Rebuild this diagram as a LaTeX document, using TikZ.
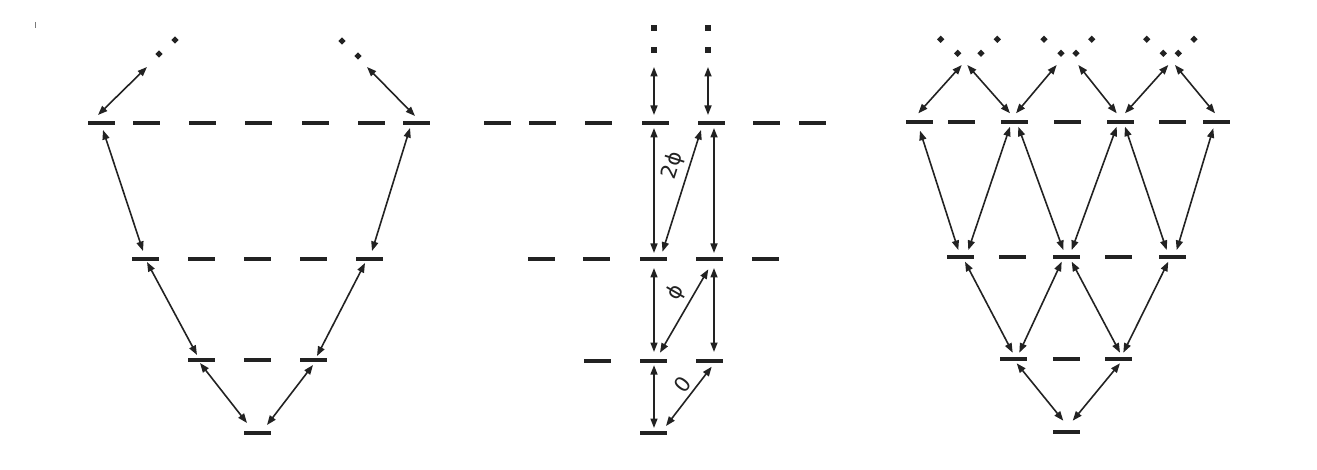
\documentclass[tikz,border=0pt]{standalone}
\usepackage{fontspec}
\newfontfamily\labfont{DejaVu Sans}
\usetikzlibrary{arrows.meta,calc,shapes.geometric}
\definecolor{ink}{HTML}{222222}
\newcommand\cnx[4]{\draw[arr] ($(#1)+(#2)$) -- ($(#3)+(#4)$);}
\begin{document}
\begin{tikzpicture}[x=1pt,y=-1pt,
  lvl/.style={rectangle,fill=ink,draw=none,inner sep=0pt,minimum width=27pt,minimum height=4.2pt},
  arr/.style={{Triangle[length=9.5pt,width=7pt]}-{Triangle[length=9.5pt,width=7pt]},line width=1.6pt,draw=ink},
  dia/.style={diamond,fill=ink,draw=none,inner sep=0pt,minimum size=7.5pt},
  sqd/.style={rectangle,fill=ink,draw=none,inner sep=0pt,minimum size=6.5pt},
  lbl/.style={font=\labfont\fontsize{21}{21}\selectfont,inner sep=0pt,text=ink}]
\useasboundingbox (0,0) rectangle (1317,470);
% stray tick
\draw[line width=0.6pt,draw=ink!60] (35,22) -- (35,28);

%% ---------------- Left panel ----------------
\node[lvl] (L0) at (257.5,433) {};
\node[lvl] (L1a) at (201,360) {};
\node[lvl] (L1b) at (257,360) {};
\node[lvl] (L1c) at (313.5,360) {};
\node[lvl] (L2a) at (145,259) {};
\node[lvl] (L2b) at (201,259) {};
\node[lvl] (L2c) at (257,259) {};
\node[lvl] (L2d) at (313,259) {};
\node[lvl] (L2e) at (369.5,259) {};
\node[lvl] (L3a) at (101.5,123) {};
\node[lvl] (L3b) at (146.5,123) {};
\node[lvl] (L3c) at (202.5,123) {};
\node[lvl] (L3d) at (258.5,123) {};
\node[lvl] (L3e) at (315,123) {};
\node[lvl] (L3f) at (371,123) {};
\node[lvl] (L3g) at (416.5,123) {};
\node[dia] (Ld1) at (159,54) {};
\node[dia] (Ld2) at (175,40) {};
\node[dia] (Ld3) at (342,41) {};
\node[dia] (Ld4) at (358,56) {};

\cnx{L1a}{-1,3}{L0}{-10.5,-10}
\cnx{L1c}{-0.5,5}{L0}{9.5,-8}
\cnx{L2a}{2,3}{L1a}{-4,-5}
\cnx{L2e}{-4.5,4}{L1c}{3.5,-4}
\cnx{L3a}{1.5,7}{L2a}{-2,-8}
\cnx{L3g}{-6.5,5}{L2e}{2.5,-8}
\cnx{L3a}{-3.5,-8}{Ld1}{-12,13}
\cnx{L3g}{-1.5,-7}{Ld4}{9,11}

%% ---------------- Middle panel ----------------
\node[lvl] (M0) at (653.5,433) {};
\node[lvl] (M1a) at (597.5,360.7) {};
\node[lvl] (M1b) at (653.5,360.7) {};
\node[lvl] (M1c) at (709.5,360.7) {};
\node[lvl] (M2a) at (541,259) {};
\node[lvl] (M2b) at (596.5,259) {};
\node[lvl] (M2c) at (653.5,259) {};
\node[lvl] (M2d) at (709.5,259) {};
\node[lvl] (M2e) at (765.5,259) {};
\node[lvl] (M3a) at (497.5,123) {};
\node[lvl] (M3b) at (542.5,123) {};
\node[lvl] (M3c) at (598.5,123) {};
\node[lvl] (M3d) at (655,123) {};
\node[lvl] (M3e) at (711,123) {};
\node[lvl] (M3f) at (766.5,123) {};
\node[lvl] (M3g) at (812.5,123) {};
\node[sqd] (Md1) at (654,28) {};
\node[sqd] (Md2) at (654,50) {};
\node[sqd] (Md3) at (708,28) {};
\node[sqd] (Md4) at (708,50) {};

\cnx{Md2}{0,17}{M3d}{-1,-8}
\cnx{Md4}{0,17}{M3e}{-3,-8}
\cnx{M3d}{-1,5}{M2c}{0.5,-6}
\cnx{M3e}{3,5}{M2d}{4.5,-6}
\cnx{M2c}{9,-7.3}{M3e}{-10,7}
\cnx{M2c}{0.5,9}{M1b}{0.5,-8.7}
\cnx{M2d}{4.5,9}{M1c}{4.5,-8.7}
\cnx{M1b}{6.5,-8}{M2d}{-1.2,10.3}
\cnx{M1b}{0.5,4.5}{M0}{0.5,-5}
\cnx{M0}{12.5,-7}{M1c}{2.2,6}

\node[lbl,rotate=72.5] (t2phi) at (673,166) {2ϕ};
\node[lbl,rotate=60] (tphi) at (676,292.5) {ϕ};
\node[lbl,rotate=52] (tzero) at (682.5,385) {0};

%% ---------------- Right panel ----------------
\node[lvl] (R0) at (1066,431.7) {};
\node[lvl] (R1a) at (1013.3,359) {};
\node[lvl] (R1b) at (1066,359) {};
\node[lvl] (R1c) at (1118.8,359) {};
\node[lvl] (R2a) at (960,257.3) {};
\node[lvl] (R2b) at (1012.8,257.3) {};
\node[lvl] (R2c) at (1066.2,257.3) {};
\node[lvl] (R2d) at (1118.8,257.3) {};
\node[lvl] (R2e) at (1172.2,257.3) {};
\node[lvl] (R3a) at (919.5,121.7) {};
\node[lvl] (R3b) at (961.7,121.7) {};
\node[lvl] (R3c) at (1014.5,121.7) {};
\node[lvl] (R3d) at (1067,121.7) {};
\node[lvl] (R3e) at (1120,121.7) {};
\node[lvl] (R3f) at (1172.8,121.7) {};
\node[lvl] (R3g) at (1216.2,121.7) {};
\node[dia] (Ru1) at (940.7,39.3) {};
\node[dia] (Ru2) at (997.3,39.3) {};
\node[dia] (Ru3) at (1044,39.3) {};
\node[dia] (Ru4) at (1091.7,39.3) {};
\node[dia] (Ru5) at (1146.7,39.3) {};
\node[dia] (Ru6) at (1194,39.3) {};
\node[dia] (Rl1) at (957.7,53.3) {};
\node[dia] (Rl2) at (981,53.3) {};
\node[dia] (Rl3) at (1061,53.3) {};
\node[dia] (Rl4) at (1076,53.3) {};
\node[dia] (Rl5) at (1163.3,53.3) {};
\node[dia] (Rl6) at (1178.3,53.3) {};

\cnx{R1a}{3.4,4.3}{R0}{-2.7,-11}
\cnx{R1c}{1.2,4.3}{R0}{6.7,-11}
\cnx{R2a}{5,4.4}{R1a}{-0.6,-6.3}
\cnx{R2c}{-4.5,4.4}{R1a}{6,-6.3}
\cnx{R2c}{5.5,4.4}{R1c}{1.2,-6.3}
\cnx{R2e}{-3.9,4.4}{R1c}{4.5,-6.3}
\cnx{R3a}{0.5,9}{R2a}{-1.7,-7.3}
\cnx{R3c}{-4.5,5}{R2a}{8.3,-7.3}
\cnx{R3c}{3.8,5}{R2c}{-2.9,-7.3}
\cnx{R3e}{-3.3,5}{R2c}{5.5,-7.3}
\cnx{R3e}{5,5}{R2e}{-5.5,-7.3}
\cnx{R3g}{-2.9,6.6}{R2e}{4.5,-7.3}
\cnx{R3a}{-1.2,-8.4}{Rl1}{4,11.7}
\cnx{R3c}{-4.5,-8.4}{Rl1}{9.6,11.7}
\cnx{R3c}{1.5,-8.4}{Rl3}{-4.3,11.7}
\cnx{R3e}{-3.3,-8.4}{Rl4}{2.3,11.7}
\cnx{R3e}{5,-8.4}{Rl5}{5,11.7}
\cnx{R3g}{-1.2,-8.4}{Rl6}{-3.3,11.7}
\end{tikzpicture}
\end{document}
